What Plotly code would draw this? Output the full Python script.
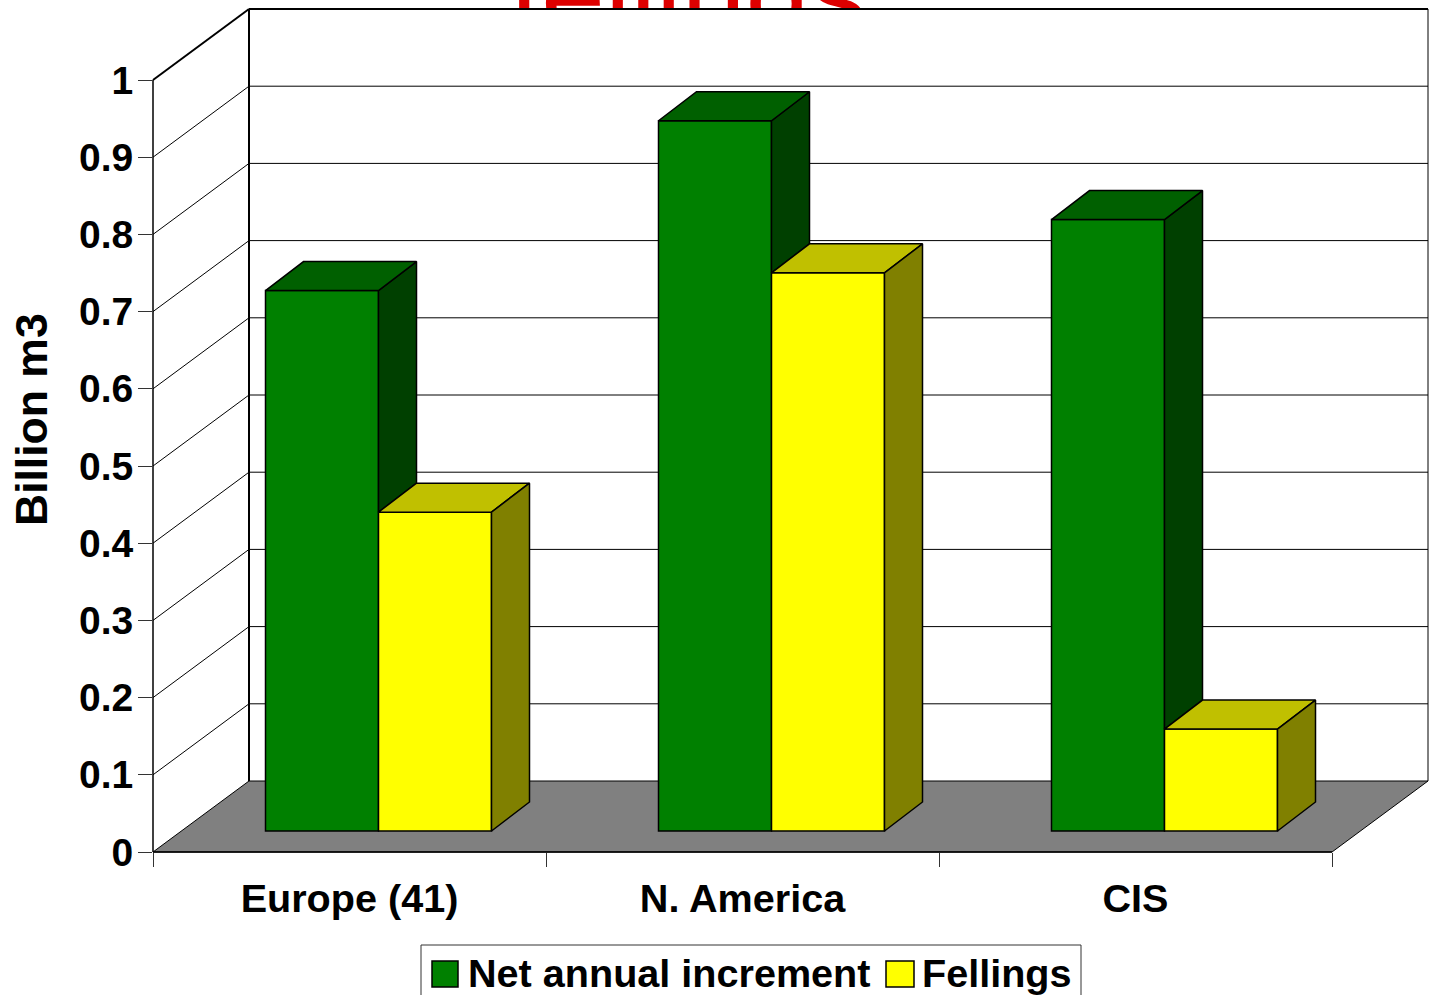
import plotly.graph_objects as go

categories = ["Europe (41)", "N. America", "CIS"]
net_increment = [0.70, 0.92, 0.792]
fellings = [0.413, 0.723, 0.132]
y_ticks = [0, 0.1, 0.2, 0.3, 0.4, 0.5, 0.6, 0.7, 0.8, 0.9, 1]
y_labels = ["0", "0.1", "0.2", "0.3", "0.4", "0.5", "0.6", "0.7", "0.8", "0.9", "1"]
series_names = ["Net annual increment", "Fellings"]

# Geometry of the 3D look, in pixels of the page
PL, PR, PT, PB = 153, 1429, 9, 852
UX, UY = 393.0, 772.0            # px per category, px per unit of value
WALL_DX, WALL_DY = 96.0 / UX, 71.0 / UY
BAR_DX, BAR_DY = 38.0 / UX, 29.0 / UY
FRONT_DX, FRONT_DY = 29.0 / UX, 21.0 / UY
BAR_W = 113.0 / UX
FONT = "Liberation Sans"
BLACK = "#000000"


def px(x):
    return (x - PL) / (PR - PL)


def py(y):
    return (PB - y) / (PB - PT)


def dx(v):
    return px(PL + v * UX)


def dy(v):
    return py(PB - v * UY)


fig = go.Figure()

centers = [i + 0.5 + FRONT_DX for i in range(len(categories))]
for name, vals, col, off in [
    (series_names[0], net_increment, "#008000", -BAR_W / 2),
    (series_names[1], fellings, "#FFFF00", BAR_W / 2),
]:
    fig.add_bar(
        x=[c + off for c in centers], y=vals, base=FRONT_DY, width=BAR_W, name=name,
        marker=dict(color=col, line=dict(color=BLACK, width=1.5)),
        showlegend=False, hoverinfo="skip",
    )


def poly(xs, ys, color):
    fig.add_trace(go.Scatter(
        x=xs + xs[:1], y=ys + ys[:1], mode="lines", fill="toself", fillcolor=color,
        line=dict(color=BLACK, width=1.5), showlegend=False, hoverinfo="skip",
    ))


for c, g, f in zip(centers, net_increment, fellings):
    gtop, ftop = g + FRONT_DY, f + FRONT_DY
    base = FRONT_DY
    # green right side, only the part that rises above the yellow bar
    poly([c, c + BAR_DX, c + BAR_DX, c],
         [gtop, gtop + BAR_DY, ftop + BAR_DY, ftop], "#004000")
    # green top
    poly([c - BAR_W, c - BAR_W + BAR_DX, c + BAR_DX, c],
         [gtop, gtop + BAR_DY, gtop + BAR_DY, gtop], "#006000")
    # yellow top
    poly([c, c + BAR_DX, c + BAR_W + BAR_DX, c + BAR_W],
         [ftop, ftop + BAR_DY, ftop + BAR_DY, ftop], "#C0C000")
    # yellow right side
    poly([c + BAR_W, c + BAR_W + BAR_DX, c + BAR_W + BAR_DX, c + BAR_W],
         [ftop, ftop + BAR_DY, base + BAR_DY, base], "#808000")

shapes = []


def line(x0, y0, x1, y1, width=1.0):
    shapes.append(dict(type="line", xref="paper", yref="paper", x0=x0, y0=y0, x1=x1, y1=y1,
                       layer="below", line=dict(color=BLACK, width=width)))


n = len(categories)
# floor
shapes.append(dict(
    type="path", xref="paper", yref="paper", layer="below",
    path=f"M{dx(0)},{dy(0)} L{dx(WALL_DX)},{dy(WALL_DY)} L{dx(WALL_DX + n)},{dy(WALL_DY)} L{dx(n)},{dy(0)} Z",
    fillcolor="#808080", line=dict(color=BLACK, width=1),
))
# gridlines on the side wall and the back wall
for t in y_ticks[1:]:
    w = 2 if t == 1 else 1
    line(dx(0), dy(t), dx(WALL_DX), dy(t + WALL_DY), w)
    line(dx(WALL_DX), dy(t + WALL_DY), dx(WALL_DX + n), dy(t + WALL_DY), w)
line(dx(0), dy(0), dx(0), dy(1), 1.5)                       # value axis
line(dx(0), dy(0), dx(n), dy(0), 1.5)                       # category axis
line(dx(WALL_DX), dy(WALL_DY), dx(WALL_DX), dy(1 + WALL_DY), 2)
line(dx(WALL_DX + n), dy(WALL_DY), dx(WALL_DX + n), dy(1 + WALL_DY), 1)

# legend box, running off the bottom of the page like the reference
shapes.append(dict(type="rect", xref="paper", yref="paper", layer="above",
                   x0=px(421), x1=px(1081), y0=py(1005), y1=py(945),
                   fillcolor="#FFFFFF", line=dict(color="#333333", width=1)))
legend_cols = ["#008000", "#FFFF00"]
legend_x = [(432, 458), (886, 914)]
for col, (a, b) in zip(legend_cols, legend_x):
    shapes.append(dict(type="rect", xref="paper", yref="paper", layer="above",
                       x0=px(a), x1=px(b), y0=py(987), y1=py(961),
                       fillcolor=col, line=dict(color=BLACK, width=1.5)))

annotations = [
    dict(text="Billion m3", textangle=-90, xref="paper", yref="paper", x=px(31), y=py(420),
         xanchor="center", yanchor="middle", showarrow=False,
         font=dict(family=FONT, size=44.5, color=BLACK, weight=700)),
    dict(text="fellings", xref="paper", yref="paper", x=px(688), y=1, xanchor="center",
         yanchor="bottom", height=78, width=420, valign="top", align="center", borderpad=0,
         showarrow=False, font=dict(family=FONT, size=115, color="#DD0000", weight=400)),
    dict(text=series_names[0], xref="paper", yref="paper", x=px(466), y=py(973),
         xanchor="left", yanchor="middle", showarrow=False,
         font=dict(family=FONT, size=39.6, color=BLACK, weight=700)),
    dict(text=series_names[1], xref="paper", yref="paper", x=px(920), y=py(973),
         xanchor="left", yanchor="middle", showarrow=False,
         font=dict(family=FONT, size=39.6, color=BLACK, weight=700)),
]

fig.update_layout(
    width=1431, height=995, autosize=False, barmode="overlay", showlegend=False,
    margin=dict(l=PL, r=1431 - PR, t=PT, b=995 - PB, pad=0, autoexpand=False),
    paper_bgcolor="#FFFFFF", plot_bgcolor="rgba(0,0,0,0)", hovermode=False,
    shapes=shapes, annotations=annotations,
    xaxis=dict(
        range=[0, (PR - PL) / UX], showgrid=False, zeroline=False, showline=False,
        tickmode="array", tickvals=[i + 0.5 for i in range(n)], ticktext=categories,
        ticks="", ticklabelstandoff=19,
        tickfont=dict(family=FONT, size=39.6, color=BLACK, weight=700),
        minor=dict(tickmode="array", tickvals=list(range(n + 1)), ticks="outside",
                   ticklen=14, tickwidth=1, tickcolor="#333333", showgrid=False),
    ),
    yaxis=dict(
        range=[0, (PB - PT) / UY], showgrid=False, zeroline=False, showline=False,
        tickmode="array", tickvals=y_ticks, ticktext=y_labels,
        ticks="outside", ticklen=14, tickwidth=1, tickcolor="#333333", ticklabelstandoff=-3,
        tickfont=dict(family=FONT, size=39, color=BLACK, weight=700),
    ),
)

fig.write_html("out.html", config=dict(displayModeBar=False),
               post_script="document.body.style.margin='0';document.body.style.overflow='hidden';")
